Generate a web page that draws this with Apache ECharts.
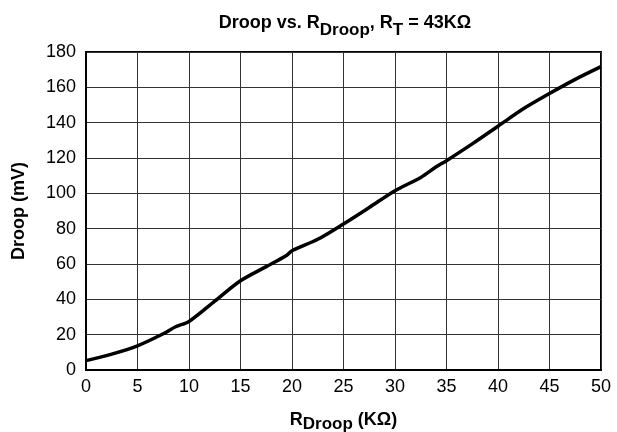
<!DOCTYPE html>
<html>
<head>
<meta charset="utf-8">
<script src="https://cdn.jsdelivr.net/npm/echarts@6/dist/echarts.min.js"></script>
<style>html,body{margin:0;padding:0;background:#fff;}#c{width:617px;height:432px;}</style>
</head>
<body>
<div id="c"></div>
<script>
var rDroop = [0, 2.5, 5, 7.5, 8.7, 10, 12.5, 15, 17.5, 19.5, 20, 22.5, 25, 27.5, 30, 32.5, 34, 35, 37.5, 40, 42.5, 45, 47.5, 50];
var droop  = [5.3, 9, 13.7, 20.5, 24.5, 27.5, 39, 50.5, 58.5, 65, 67.5, 74, 82.7, 92, 101.5, 109, 115, 118.5, 128, 138, 148, 156.5, 164.5, 171.7];
var xTicks = [0, 5, 10, 15, 20, 25, 30, 35, 40, 45, 50];
var yTicks = [0, 20, 40, 60, 80, 100, 120, 140, 160, 180];

var font = 'Liberation Sans, Arial, sans-serif';
var chart = echarts.init(document.getElementById('c'), null, {renderer: 'canvas'});
chart.setOption({
  animation: false,
  backgroundColor: '#fff',
  title: {
    text: '{b|Droop vs. R}{s|Droop}{b|, R}{s|T}{b| = 43KΩ}',
    left: 340, top: 9, textAlign: 'center',
    textStyle: {
      rich: {
        b: {fontFamily: font, fontSize: 18, fontWeight: 'bold', color: '#000', lineHeight: 22, verticalAlign: 'top'},
        s: {fontFamily: font, fontSize: 17, fontWeight: 'bold', color: '#000', lineHeight: 22, verticalAlign: 'top', padding: [8, 0, 0, 0]}
      }
    }
  },
  grid: {left: 86, right: 16, top: 52, bottom: 62, containLabel: false, outerBoundsMode: 'none', show: true, borderColor: '#000', borderWidth: 2, backgroundColor: 'transparent'},
  xAxis: {
    type: 'value', min: 0, max: 50, interval: 5,
    name: '{b|R}{s|Droop}{b| (KΩ)}',
    nameLocation: 'middle', nameGap: 41,
    nameTextStyle: {
      rich: {
        b: {fontFamily: font, fontSize: 18, fontWeight: 'bold', color: '#000', lineHeight: 22, verticalAlign: 'top'},
        s: {fontFamily: font, fontSize: 17, fontWeight: 'bold', color: '#000', lineHeight: 22, verticalAlign: 'top', padding: [5, 0, 0, 0]}
      }
    },
    axisLine: {show: true, lineStyle: {color: '#000', width: 2}},
    axisTick: {show: false},
    axisLabel: {fontFamily: font, fontSize: 18, color: '#000', margin: 8, formatter: function (v) { return xTicks.indexOf(v) >= 0 ? String(v) : ''; }},
    splitLine: {show: true, lineStyle: {color: '#333', width: 1}}
  },
  yAxis: {
    type: 'value', min: 0, max: 180, interval: 20,
    name: 'Droop (mV)',
    nameLocation: 'middle', nameGap: 58,
    nameTextStyle: {fontFamily: font, fontSize: 18, fontWeight: 'bold', color: '#000'},
    axisLine: {show: true, lineStyle: {color: '#000', width: 2}},
    axisTick: {show: false},
    axisLabel: {fontFamily: font, fontSize: 18, color: '#000', margin: 10, formatter: function (v) { return yTicks.indexOf(v) >= 0 ? String(v) : ''; }},
    splitLine: {show: true, lineStyle: {color: '#333', width: 1}}
  },
  series: [{
    type: 'line',
    data: rDroop.map(function (x, i) { return [x, droop[i]]; }),
    smooth: 0.3,
    showSymbol: false,
    lineStyle: {color: '#000', width: 3.5},
    clip: true
  }]
});
</script>
</body>
</html>
